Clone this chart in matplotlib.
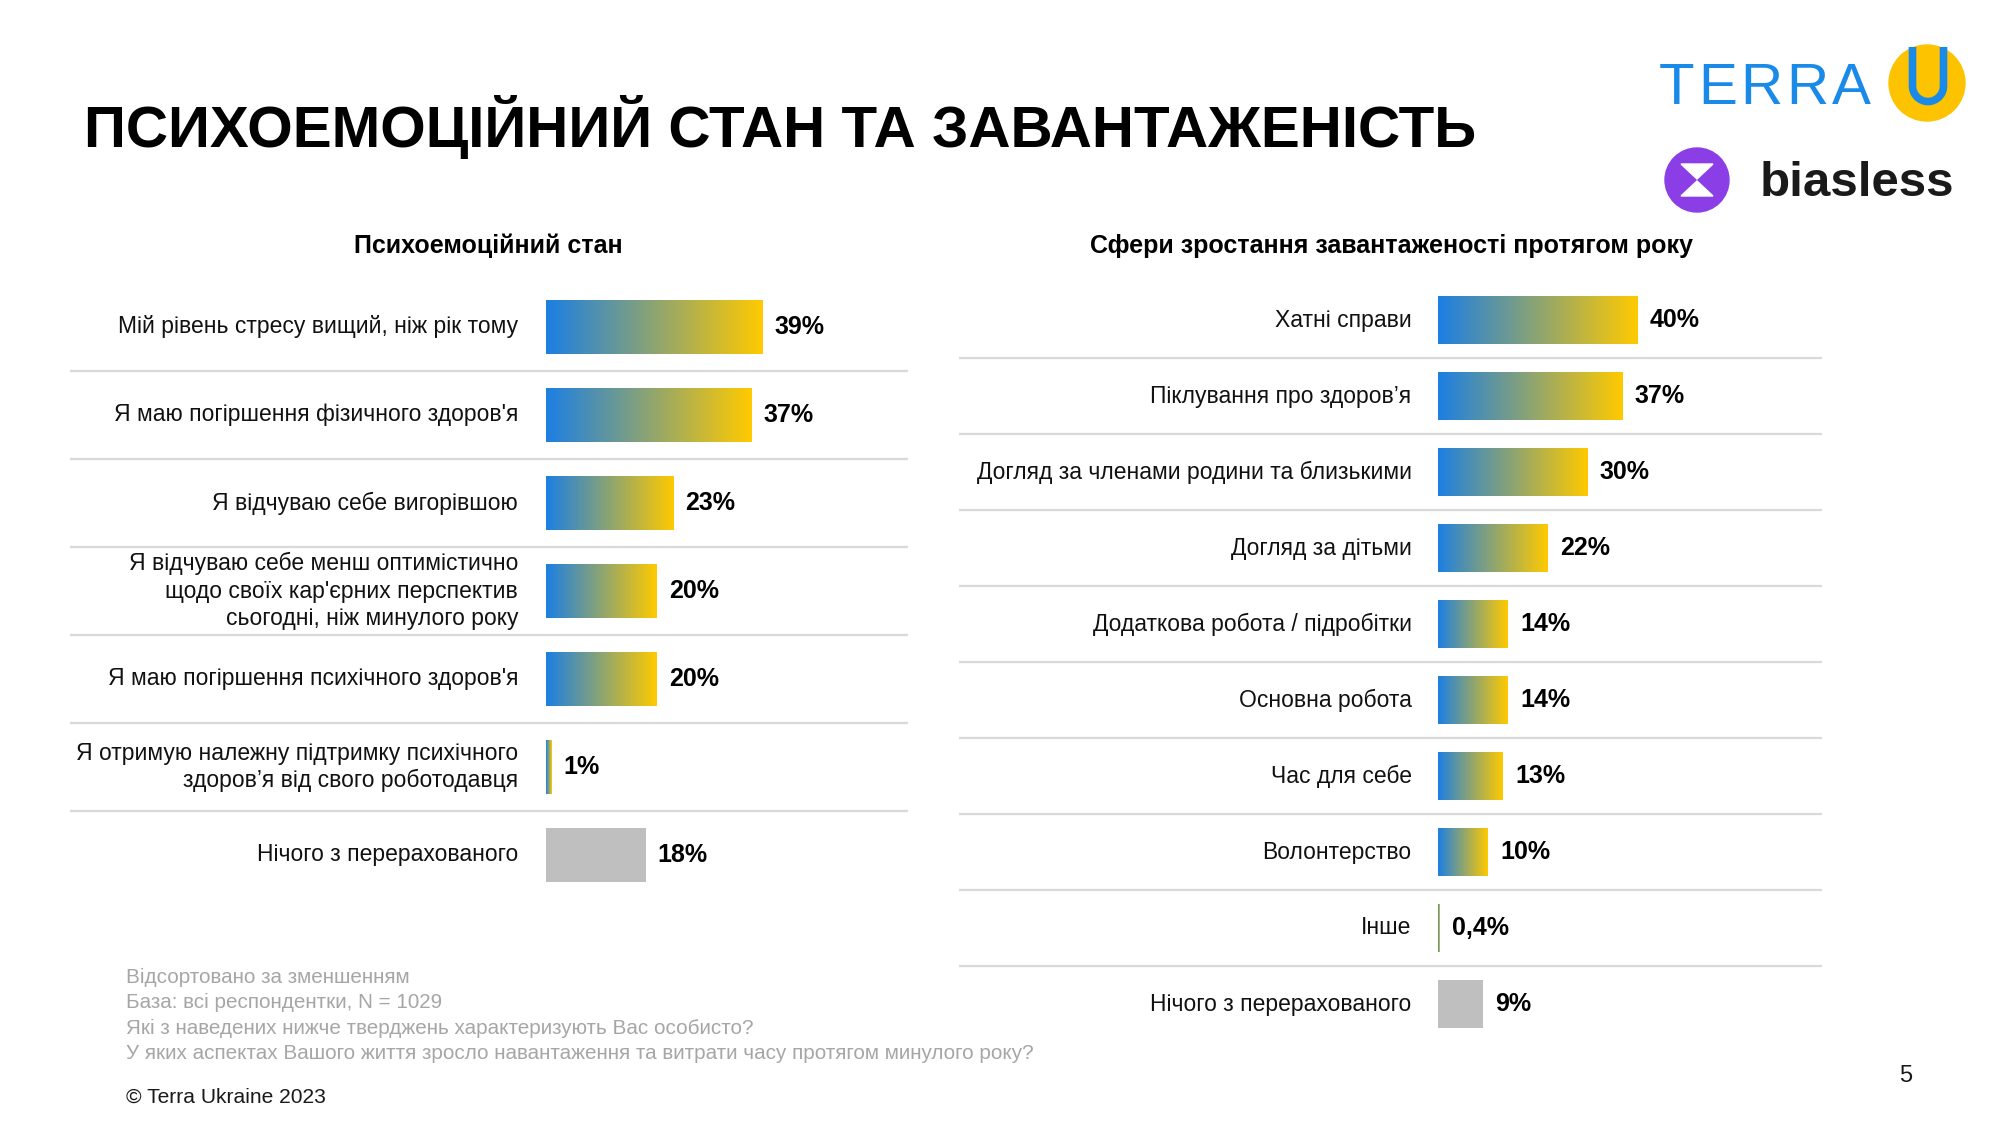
import numpy as np
import matplotlib
matplotlib.use('Agg')
import matplotlib.pyplot as plt
from matplotlib.colors import LinearSegmentedColormap
from matplotlib.patches import Circle, Polygon
from matplotlib.lines import Line2D

plt.rcParams['font.family'] = ['Liberation Sans', 'DejaVu Sans']

# ---------------- data ----------------
title = "ПСИХОЕМОЦІЙНИЙ СТАН ТА ЗАВАНТАЖЕНІСТЬ"
left_title = "Психоемоційний стан"
right_title = "Сфери зростання завантаженості протягом року"

left_labels = [
    "Мій рівень стресу вищий, ніж рік тому",
    "Я маю погіршення фізичного здоров'я",
    "Я відчуваю себе вигорівшою",
    "Я відчуваю себе менш оптимістично\nщодо своїх кар'єрних перспектив\nсьогодні, ніж минулого року",
    "Я маю погіршення психічного здоров'я",
    "Я отримую належну підтримку психічного\nздоров’я від свого роботодавця",
    "Нічого з перерахованого",
]
left_values = [39, 37, 23, 20, 20, 1, 18]
left_texts = ["39%", "37%", "23%", "20%", "20%", "1%", "18%"]

right_labels = [
    "Хатні справи",
    "Піклування про здоров’я",
    "Догляд за членами родини та близькими",
    "Догляд за дітьми",
    "Додаткова робота / підробітки",
    "Основна робота",
    "Час для себе",
    "Волонтерство",
    "Інше",
    "Нічого з перерахованого",
]
right_values = [40, 37, 30, 22, 14, 14, 13, 10, 0.4, 9]
right_texts = ["40%", "37%", "30%", "22%", "14%", "14%", "13%", "10%", "0,4%", "9%"]

footnotes = [
    "Відсортовано за зменшенням",
    "База: всі респондентки, N = 1029",
    "Які з наведених нижче тверджень характеризують Вас особисто?",
    "У яких аспектах Вашого життя зросло навантаження та витрати часу протягом минулого року?",
]
copyright_text = "© Terra Ukraine 2023"
page_number = "5"
logo_word = "TERRA"
logo_word2 = "biasless"

# ---------------- figure ----------------
W, H = 2000, 1125
fig = plt.figure(figsize=(20, 11.25), dpi=100)
fig.patch.set_facecolor('white')

cmap = LinearSegmentedColormap.from_list('uaq', ['#1c7fe3', '#ffca00'])
GRAY = '#bfbfbf'
SEP = '#d9d9d9'


def ax_px(x0, y0, x1, y1):
    return fig.add_axes([x0 / W, 1 - y1 / H, (x1 - x0) / W, (y1 - y0) / H])


def draw_panel(ax, labels, values, texts, bar_h, lab_off, val_off):
    n = len(labels)
    grad = np.linspace(0, 1, 256).reshape(1, -1)
    for i, (lab, v, t) in enumerate(zip(labels, values, texts)):
        if i == n - 1:
            ax.barh(i, v, height=bar_h, color=GRAY, zorder=2)
        else:
            ax.imshow(grad, cmap=cmap, aspect='auto', interpolation='bilinear',
                      extent=[0, v, i + bar_h / 2, i - bar_h / 2], zorder=2)
        ax.annotate(t, (v, i), xytext=(val_off, 0), textcoords='offset points',
                    ha='left', va='center', fontsize=18, fontweight='bold',
                    color='black')
        ax.annotate(lab, (0, i), xytext=(-lab_off, 0), textcoords='offset points',
                    ha='right', va='center', fontsize=16.5, color='#111111',
                    multialignment='right', linespacing=1.25)
    for i in range(n - 1):
        ax.axhline(i + 0.5, color=SEP, lw=1.6, zorder=1)
    ax.set_ylim(n - 0.5, -0.5)
    ax.axis('off')


# left panel: bars start at x=546px, 5.55 px per %
axL = ax_px(70, 283, 908, 899)
draw_panel(axL, left_labels, left_values, left_texts, 0.61, 20, 8.6)
axL.set_xlim(-(546 - 70) / 5.55, (908 - 546) / 5.55)

# right panel: bars start at x=1438px, 5.0 px per %
axR = ax_px(959, 282, 1822, 1042)
draw_panel(axR, right_labels, right_values, right_texts, 0.62, 19, 8.6)
axR.set_xlim(-(1438 - 959) / 5.0, (1822 - 1438) / 5.0)

# overlay for texts / logos in pixel coords
ov = fig.add_axes([0, 0, 1, 1], zorder=-1)
ov.set_xlim(0, W)
ov.set_ylim(H, 0)
ov.axis('off')

ov.text(84, 147, title, fontsize=42, fontweight='bold', ha='left', va='baseline', color='black')
ov.text(488, 253, left_title, fontsize=18, fontweight='bold', ha='center', va='baseline', color='black')
ov.text(1391, 253, right_title, fontsize=18, fontweight='bold', ha='center', va='baseline', color='black')

for k, line in enumerate(footnotes):
    ov.text(126, 983 + k * 25.3, line, fontsize=14.9, color='#a6a6a6', ha='left', va='baseline')
ov.text(126, 1103, copyright_text, fontsize=15.1, color='#1a1a1a', ha='left', va='baseline')
ov.text(1906, 1082, page_number, fontsize=17, color='#1a1a1a', ha='center', va='baseline')

# TERRA U logo (letter-spaced real text)
renderer = fig.canvas.get_renderer()
x = 1659.0
for ch in logo_word:
    t = ov.text(x, 104, ch, fontsize=42, color='#1a8ae8', ha='left', va='baseline')
    bb = t.get_window_extent(renderer=renderer)
    x += bb.width + 3.5
ov.add_patch(Circle((1927, 83), 38, color='#fdc300', zorder=3))
th = np.linspace(np.pi, 2 * np.pi, 40)
ux = np.concatenate([[1912.5], 1928 + 15.5 * np.cos(th), [1943.5]])
uy = np.concatenate([[47], 86 - 15.5 * np.sin(th), [47]])
ov.add_line(Line2D(ux, uy, color='#1a8ae8', lw=5.5, solid_capstyle='butt', zorder=4))

# biasless logo
ov.add_patch(Circle((1697, 180), 32, color='#8b3ee6', zorder=3))
ov.add_patch(Polygon([(1681, 164), (1713, 164), (1697, 179)], closed=True, color='white', zorder=4))
ov.add_patch(Polygon([(1681, 196), (1713, 196), (1697, 181)], closed=True, color='white', zorder=4))
ov.text(1760, 196, logo_word2, fontsize=35.5, fontweight='bold', color='#1a1a1a', ha='left', va='baseline')

fig.savefig('out.png', dpi=100, facecolor='white')
